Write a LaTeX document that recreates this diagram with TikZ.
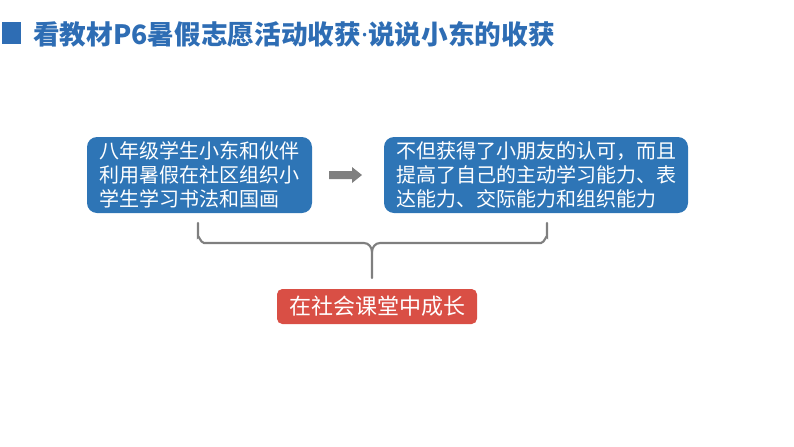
\documentclass[tikz,border=0pt]{standalone}
\usepackage{fontspec}
\setmainfont{Noto Sans CJK SC}
\newfontfamily\latinsans{Noto Sans}
\definecolor{titleblue}{HTML}{2E6DB4}
\definecolor{cardblue}{HTML}{2E75B6}
\definecolor{cardred}{HTML}{D94F45}
\definecolor{linegray}{HTML}{7F7F7F}
\begin{document}
\begin{tikzpicture}[x=0.75pt,y=-0.75pt,
  font=\fontsize{15pt}{18pt}\selectfont,
  headline/.style={anchor=west,inner sep=0pt,text=titleblue,
    font=\fontsize{20pt}{24pt}\selectfont\bfseries},
  card/.style={fill=cardblue,rounded corners=7.5pt,text=white,
    align=left,minimum height=57pt,inner xsep=9pt,inner ysep=0pt},
  result/.style={fill=cardred,rounded corners=4pt,text=white,
    minimum width=150pt,minimum height=26.25pt,inner sep=0pt,
    font=\fontsize{16.5pt}{18pt}\selectfont},
  arw/.style={fill=linegray},
  brace/.style={draw=linegray,line width=1.6pt,line cap=round}]
\useasboundingbox (0,0) rectangle (794,447);
% title
\fill[titleblue] (2,22) rectangle (21,44);
\node[headline] (head) at (33,34)
  {看教材P6暑假志愿活动收获{\latinsans\bfseries ·}说说小东的收获};
% the two cards
\node[card,minimum width=168.75pt] (act) at (199.5,175)
  {八年级学生小东和伙伴\\利用暑假在社区组织小\\学生学习书法和国画};
\node[card,minimum width=228pt] (gain) at (536,175)
  {不但获得了小朋友的认可，而且\\提高了自己的主动学习能力、表\\达能力、交际能力和组织能力};
\fill[arw] (329,171) -- (352,171) -- (352,167) -- (362,175)
  -- (352,183) -- (352,179) -- (329,179) -- cycle;
% brace and result
\coordinate (bl) at (198,223);
\coordinate (br) at (547,223);
\coordinate (tip) at (372,278);
\node[result] (grow) at (377,306.5) {在社会课堂中成长};
\draw[brace] (bl) -- (198,237) to[out=90,in=180] (204,243) -- (364,243)
  to[out=0,in=90] (372,252) -- (tip);
\draw[brace] (br) -- (547,237) to[out=90,in=0] (541,243) -- (380,243)
  to[out=180,in=90] (372,252);
\end{tikzpicture}
\end{document}
